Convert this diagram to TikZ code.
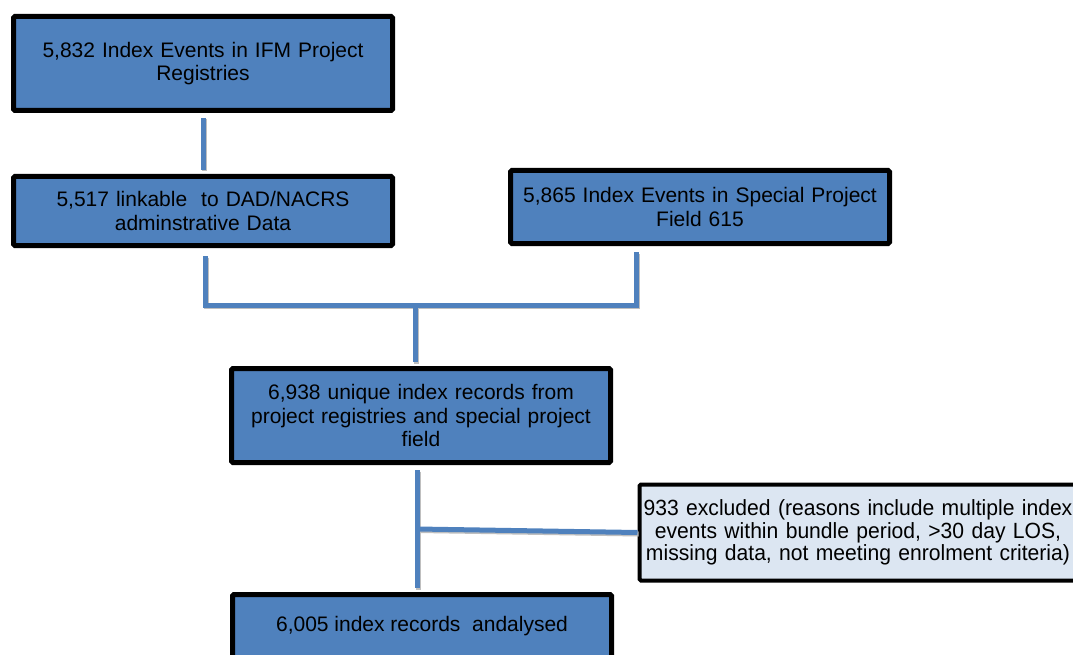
\documentclass[tikz,border=0pt]{standalone}
\usepackage{fontspec}
\setmainfont{Liberation Sans}
\newfontfamily\narrowfont{Liberation Sans}[FakeStretch=0.96]
\definecolor{boxblue}{RGB}{79,129,189}
\definecolor{paleblue}{RGB}{220,230,242}
\begin{document}
\begin{tikzpicture}[x=1pt,y=-1pt,
  mainbox/.style={draw=black, line width=5pt, fill=boxblue, rounded corners=1.5pt,
    minimum width=379pt, inner sep=0pt, align=center, text width=370pt,
    font=\fontsize{21}{23.5}\selectfont},
  exclbox/.style={draw=black, line width=4pt, fill=paleblue, rounded corners=1.5pt,
    minimum width=437pt, minimum height=96pt, inner sep=0pt, align=center, text width=436pt,
    font=\narrowfont\fontsize{22}{22.5}\selectfont},
  conn/.style={draw=boxblue, line width=5pt},
  shadow/.style={draw=black!25, line width=5pt, transform canvas={xshift=1.2pt,yshift=-1.5pt}}
]
\useasboundingbox (0,0) rectangle (1073,655);
\clip (0,0) rectangle (1073,655);

\node[mainbox, minimum height=94pt] (b1) at (203,63.5) {5,832 Index Events in IFM Project\\Registries};
\node[mainbox, minimum height=69pt] (b2) at (203,211) {5,517 linkable\ \ to DAD/NACRS\\adminstrative Data};
\node[mainbox, minimum height=73pt] (b3) at (700,207) {5,865 Index Events in Special Project\\Field 615};
\node[mainbox, minimum height=94pt] (b4) at (421,415.5) {6,938 unique index records from\\project registries and special project\\field};
\node[exclbox] (b5) at (858,532.5) {933 excluded (reasons include multiple index\\events within bundle period, >30 day LOS,\\missing data, not meeting enrolment criteria)};
\node[mainbox, minimum height=80pt, text depth=0pt] (b6) at (422,634.5) {};
\node[font=\fontsize{21}{23.5}\selectfont] (b6t) at (422,626) {6,005 index records\ \ andalysed};

\coordinate (jl) at (205,305);
\coordinate (jr) at (636,305);
\coordinate (jrt) at (636,252);
\coordinate (jm) at (415,305);
\coordinate (jx) at (417,529);

\foreach \s in {shadow,conn}{
  \draw[\s] ([yshift=-5pt]b1.south) -- ([yshift=4pt]b2.north);
  \draw[\s] ([xshift=2pt,yshift=-8pt]b2.south) -- (jl) -- (jr) -- (jrt);
  \draw[\s] (jm) -- ([xshift=-6pt,yshift=4pt]b4.north);
  \draw[\s] ([xshift=-4pt,yshift=-5pt]b4.south) -- ([xshift=-5pt,yshift=4pt]b6.north);
  \draw[\s] (jx) -- (b5.west);
}
\end{tikzpicture}
\end{document}
